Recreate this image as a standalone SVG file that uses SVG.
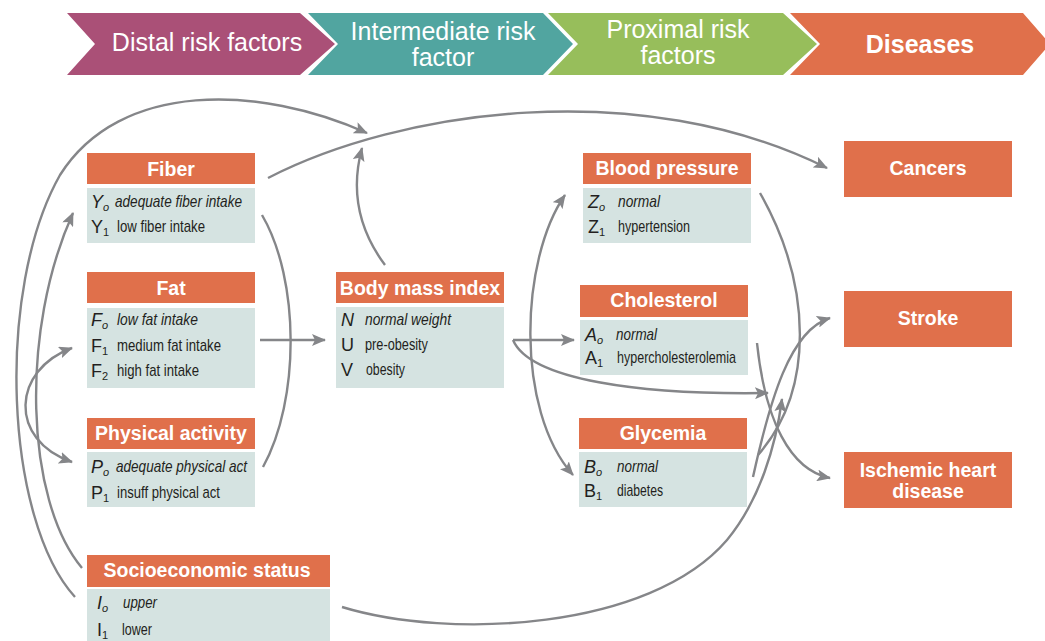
<svg xmlns="http://www.w3.org/2000/svg" width="1045" height="641" viewBox="0 0 1045 641">
<defs>
<marker id="ah" markerUnits="userSpaceOnUse" markerWidth="14" markerHeight="12" refX="13" refY="6" orient="auto-start-reverse">
<path d="M0,0 L14,6 L0,12 L3,6 Z" fill="#858689"/>
</marker>
</defs>
<style>
.hd{fill:#E0704B}
.bd{fill:#D5E3E1}
.t{font-family:"Liberation Sans",Arial,sans-serif;font-weight:bold;font-size:19.5px;fill:#fff;text-anchor:middle}
.ch{font-family:"Liberation Sans",Arial,sans-serif;font-size:25px;fill:#fff;text-anchor:middle}
.s{font-family:"Liberation Sans",Arial,sans-serif;font-size:18px;fill:#231F20}
.sub{font-size:11px}
.d{font-family:"Liberation Sans",Arial,sans-serif;font-size:17px;fill:#231F20}
.i{font-style:italic}
.c{fill:none;stroke:#858689;stroke-width:2.4}
</style>
<g id="stages">
<polygon points="67,13 300,13 335,44 300,75 67,75 95,44" fill="#AA5077"/>
<polygon points="308,13 543,13 573,44 543,75 308,75 338,44" fill="#51A5A0"/>
<polygon points="548,13 783,13 817,44 783,75 548,75 578,44" fill="#97BE5B"/>
<polygon points="790,13 1023,13 1050,44 1023,75 790,75 820,44" fill="#E0704B"/>
<text class="ch" x="207" y="51">Distal risk factors</text>
<text class="ch" x="443" y="40">Intermediate risk</text>
<text class="ch" x="443" y="66">factor</text>
<text class="ch" x="678" y="38">Proximal risk</text>
<text class="ch" x="678" y="64">factors</text>
<text class="ch" x="920" y="53" font-weight="bold" font-size="26">Diseases</text>
</g>
<g id="fiber">
<rect class="hd" x="87" y="153" width="168" height="31"/>
<rect class="bd" x="87" y="188" width="168" height="55"/>
<text class="t" x="171" y="176">Fiber</text>
<text class="s i" x="91" y="208">Y<tspan class="sub" dy="3">o</tspan></text>
<text class="d i" x="115" y="207" textLength="127" lengthAdjust="spacingAndGlyphs">adequate fiber intake</text>
<text class="s" x="91" y="233">Y<tspan class="sub" dy="3">1</tspan></text>
<text class="d" x="117" y="232" textLength="88" lengthAdjust="spacingAndGlyphs">low fiber intake</text>
</g>
<g id="fat">
<rect class="hd" x="87" y="272" width="168" height="31"/>
<rect class="bd" x="87" y="308" width="168" height="80"/>
<text class="t" x="171" y="295">Fat</text>
<text class="s i" x="91" y="326">F<tspan class="sub" dy="3">o</tspan></text>
<text class="d i" x="117" y="325" textLength="81" lengthAdjust="spacingAndGlyphs">low fat intake</text>
<text class="s" x="91" y="352">F<tspan class="sub" dy="3">1</tspan></text>
<text class="d" x="117" y="351" textLength="104" lengthAdjust="spacingAndGlyphs">medium fat intake</text>
<text class="s" x="91" y="377">F<tspan class="sub" dy="3">2</tspan></text>
<text class="d" x="117" y="376" textLength="82" lengthAdjust="spacingAndGlyphs">high fat intake</text>
</g>
<g id="physical">
<rect class="hd" x="87" y="418" width="168" height="31"/>
<rect class="bd" x="87" y="452" width="168" height="55"/>
<text class="t" x="171" y="440">Physical activity</text>
<text class="s i" x="91" y="473">P<tspan class="sub" dy="3">o</tspan></text>
<text class="d i" x="116" y="472" textLength="131" lengthAdjust="spacingAndGlyphs">adequate physical act</text>
<text class="s" x="91" y="499">P<tspan class="sub" dy="3">1</tspan></text>
<text class="d" x="117" y="498" textLength="103" lengthAdjust="spacingAndGlyphs">insuff physical act</text>
</g>
<g id="ses">
<rect class="hd" x="87" y="555" width="243" height="32"/>
<rect class="bd" x="87" y="589" width="243" height="55"/>
<text class="t" x="207" y="577">Socioeconomic status</text>
<text class="s i" x="97" y="609">I<tspan class="sub" dy="3">o</tspan></text>
<text class="d i" x="123" y="608" textLength="34" lengthAdjust="spacingAndGlyphs">upper</text>
<text class="s" x="97" y="636">I<tspan class="sub" dy="3">1</tspan></text>
<text class="d" x="122" y="635" textLength="30" lengthAdjust="spacingAndGlyphs">lower</text>
</g>
<g id="bmi">
<rect class="hd" x="336" y="272" width="168" height="31"/>
<rect class="bd" x="336" y="307" width="168" height="81"/>
<text class="t" x="420" y="295">Body mass index</text>
<text class="s i" x="341" y="326">N</text>
<text class="d i" x="365" y="325" textLength="86" lengthAdjust="spacingAndGlyphs">normal weight</text>
<text class="s" x="341" y="351">U</text>
<text class="d" x="365" y="350" textLength="63" lengthAdjust="spacingAndGlyphs">pre-obesity</text>
<text class="s" x="341" y="376">V</text>
<text class="d" x="366" y="375" textLength="39" lengthAdjust="spacingAndGlyphs">obesity</text>
</g>
<g id="bp">
<rect class="hd" x="583" y="153" width="168" height="31"/>
<rect class="bd" x="583" y="188" width="168" height="55"/>
<text class="t" x="667" y="175">Blood pressure</text>
<text class="s i" x="588" y="208">Z<tspan class="sub" dy="3">o</tspan></text>
<text class="d i" x="618" y="207" textLength="42" lengthAdjust="spacingAndGlyphs">normal</text>
<text class="s" x="588" y="233">Z<tspan class="sub" dy="3">1</tspan></text>
<text class="d" x="618" y="232" textLength="72" lengthAdjust="spacingAndGlyphs">hypertension</text>
</g>
<g id="chol">
<rect class="hd" x="580" y="285" width="168" height="32"/>
<rect class="bd" x="580" y="320" width="168" height="55"/>
<text class="t" x="664" y="307">Cholesterol</text>
<text class="s i" x="585" y="341">A<tspan class="sub" dy="3">o</tspan></text>
<text class="d i" x="616" y="340" textLength="41" lengthAdjust="spacingAndGlyphs">normal</text>
<text class="s" x="585" y="364">A<tspan class="sub" dy="3">1</tspan></text>
<text class="d" x="617" y="363" textLength="119" lengthAdjust="spacingAndGlyphs">hypercholesterolemia</text>
</g>
<g id="glyc">
<rect class="hd" x="579" y="418" width="168" height="31"/>
<rect class="bd" x="579" y="452" width="168" height="55"/>
<text class="t" x="663" y="440">Glycemia</text>
<text class="s i" x="584" y="473">B<tspan class="sub" dy="3">o</tspan></text>
<text class="d i" x="617" y="472" textLength="41" lengthAdjust="spacingAndGlyphs">normal</text>
<text class="s" x="584" y="497">B<tspan class="sub" dy="3">1</tspan></text>
<text class="d" x="617" y="496" textLength="46" lengthAdjust="spacingAndGlyphs">diabetes</text>
</g>
<g id="cancers">
<rect class="hd" x="844" y="141" width="168" height="56"/>
<text class="t" x="928" y="175">Cancers</text>
</g>
<g id="stroke">
<rect class="hd" x="844" y="291" width="168" height="56"/>
<text class="t" x="928" y="325">Stroke</text>
</g>
<g id="ihd">
<rect class="hd" x="844" y="452" width="168" height="56"/>
<text class="t" x="928" y="477">Ischemic heart</text>
<text class="t" x="928" y="498">disease</text>
</g>
<g id="connectors">
<path class="c" d="M75,597 C5,520 -5,290 60,175 C120,80 260,85 367,133" marker-end="url(#ah)"/>
<path class="c" d="M82,568 C25,500 20,330 73,213" marker-end="url(#ah)"/>
<path class="c" d="M72,348 C12,370 8,440 72,462" marker-start="url(#ah)" marker-end="url(#ah)"/>
<path class="c" d="M268,178 C400,110 640,75 827,168" marker-end="url(#ah)"/>
<path class="c" d="M385,265 C355,225 352,185 362,148" marker-end="url(#ah)"/>
<path class="c" d="M262,215 C300,280 300,400 263,467"/>
<path class="c" d="M260,340 L325,340" marker-end="url(#ah)"/>
<path class="c" d="M513,340 L574,340" marker-end="url(#ah)"/>
<path class="c" d="M513,340 C530,380 640,395 768,393" marker-end="url(#ah)"/>
<path class="c" d="M565,195 C520,260 515,410 573,475" marker-start="url(#ah)" marker-end="url(#ah)"/>
<path class="c" d="M342,607 C450,640 650,630 727,540 C760,500 776,445 782,399" marker-end="url(#ah)"/>
<path class="c" d="M760,193 C812,285 815,390 758,455"/>
<path class="c" d="M757,343 C765,420 790,470 830,478" marker-end="url(#ah)"/>
<path class="c" d="M753,477 C770,400 790,330 830,318" marker-end="url(#ah)"/>
</g>
</svg>
